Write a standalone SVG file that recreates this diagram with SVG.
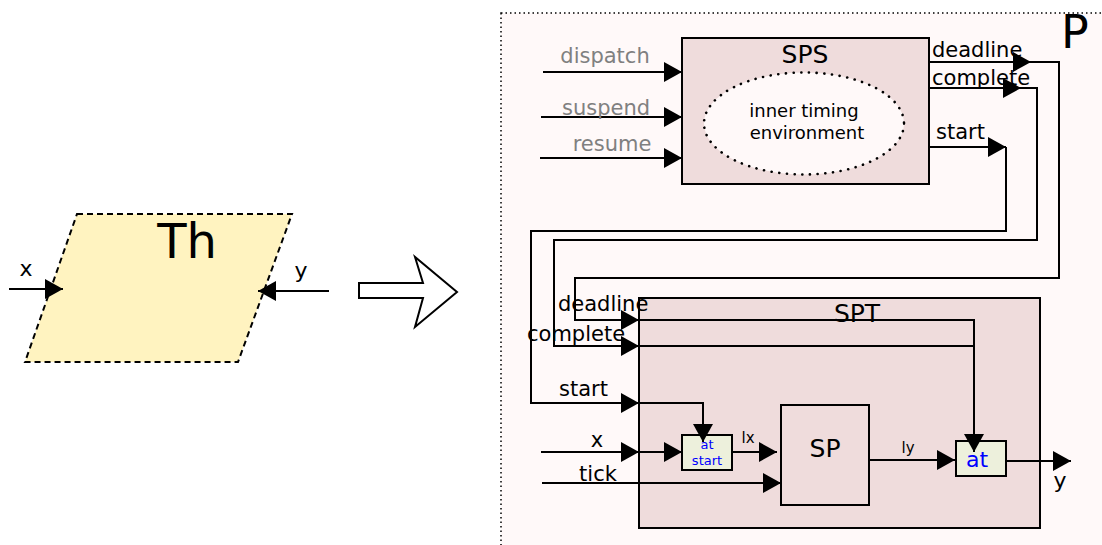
<svg xmlns="http://www.w3.org/2000/svg" width="1102" height="545" viewBox="0 0 1102 545">
<defs>
<marker id="ah" markerUnits="userSpaceOnUse" markerWidth="18" markerHeight="20" refX="18" refY="10" orient="auto" overflow="visible">
<path d="M0,0 L18,10 L0,20 Z" fill="#000"/>
</marker>
</defs>
<style>
text{font-family:"DejaVu Sans","Liberation Sans",sans-serif;fill:#000}
.w{fill:none;stroke:#000;stroke-width:2}
.a{marker-end:url(#ah)}
.box{fill:#efdcdc;stroke:#000;stroke-width:2}
.at{fill:#edf0dc;stroke:#000;stroke-width:2}
.lbl{font-size:21px}
.gray{fill:#808080}
.big{font-size:25px}
.blue{fill:#0000ff}
.mid{text-anchor:middle}
</style>
<rect width="1102" height="545" fill="#fff"/>
<g id="Th">
<polygon points="77,214 292,214 238,362 25,362" fill="#fff3c0" stroke="#000" stroke-width="2" stroke-dasharray="6,4"/>
<text x="187" y="258" font-size="48" class="mid">Th</text>
<text x="26" y="276" font-size="22" class="mid">x</text>
<text x="301" y="278" font-size="22" class="mid">y</text>
</g>
<g id="transform-arrow">
<polygon points="359,283 423,283 415,257 457,292 415,327 423,298 359,298" fill="#fff" stroke="#000" stroke-width="2"/>
</g>
<g id="P">
<rect x="501" y="13" width="610" height="545" fill="#fff9f9" stroke="#000" stroke-width="1.5" stroke-dasharray="1.5,3"/>
<text x="1061" y="48" font-size="46">P</text>
</g>
<g id="SPS">
<rect x="682" y="38" width="247" height="146" class="box"/>
<text x="805" y="63" class="big mid">SPS</text>
<ellipse cx="804" cy="123.5" rx="100" ry="51" fill="#fff9f9" stroke="#000" stroke-width="2.6" stroke-dasharray="0.1,7.6" stroke-linecap="round"/>
<text x="804" y="117" font-size="18" class="mid">inner timing</text>
<text x="807" y="139" font-size="18" class="mid">environment</text>
</g>
<g id="SPT">
<rect x="639" y="298" width="401" height="230" class="box"/>
<text x="857" y="322" class="big mid">SPT</text>
</g>
<g id="SP">
<rect x="781" y="405" width="88" height="100" class="box"/>
<text x="825" y="457" class="big mid">SP</text>
</g>
<g id="at-start">
<rect x="682" y="435" width="50" height="35" class="at"/>
<text x="707" y="449" font-size="13" class="mid blue">at</text>
<text x="707" y="465" font-size="13" class="mid blue">start</text>
</g>
<g id="at">
<rect x="956" y="441" width="50" height="35" class="at"/>
<text x="977" y="467" font-size="22" class="mid blue">at</text>
</g>
<g id="connectors">
<path class="w a" d="M9,289 L63,289"/>
<path class="w a" d="M329,291 L258,291"/>
<path class="w a" d="M543,72 L682,72"/>
<path class="w a" d="M541,117 L682,117"/>
<path class="w a" d="M540,158 L682,158"/>
<path class="w a" d="M929,62 L1031,62"/>
<path class="w a" d="M1031,62 L1059,62 L1059,278 L575,278 L575,320 L639,320"/>
<path class="w a" d="M639,320 L974,320 L974,452"/>
<path class="w a" d="M929,88 L1021,88"/>
<path class="w a" d="M1021,88 L1037,88 L1037,240 L554,240 L554,346 L639,346"/>
<path class="w" d="M639,346 L974,346"/>
<path class="w a" d="M929,147 L1006,147"/>
<path class="w a" d="M1006,147 L1006,231 L531,231 L531,403 L639,403"/>
<path class="w a" d="M639,403 L703,403 L703,442"/>
<path class="w a" d="M541,452 L639,452"/>
<path class="w a" d="M639,452 L682,452"/>
<path class="w a" d="M542,483 L781,483"/>
<path class="w a" d="M732,452 L777,452"/>
<path class="w a" d="M869,460 L955,460"/>
<path class="w a" d="M1006,461 L1071,461"/>
</g>
<g id="labels">
<text x="605" y="63" class="lbl gray mid">dispatch</text>
<text x="606" y="115" class="lbl gray mid">suspend</text>
<text x="612" y="151" class="lbl gray mid">resume</text>
<text x="932" y="57" class="lbl">deadline</text>
<text x="932" y="85" class="lbl">complete</text>
<text x="936" y="139" class="lbl">start</text>
<text x="558" y="311" class="lbl">deadline</text>
<text x="527" y="341" class="lbl">complete</text>
<text x="559" y="396" class="lbl">start</text>
<text x="597" y="447" class="lbl mid">x</text>
<text x="598" y="481" class="lbl mid">tick</text>
<text x="748" y="443" font-size="15" class="mid">lx</text>
<text x="908" y="453" font-size="15" class="mid">ly</text>
<text x="1060" y="488" font-size="22" class="mid">y</text>
</g>
</svg>
